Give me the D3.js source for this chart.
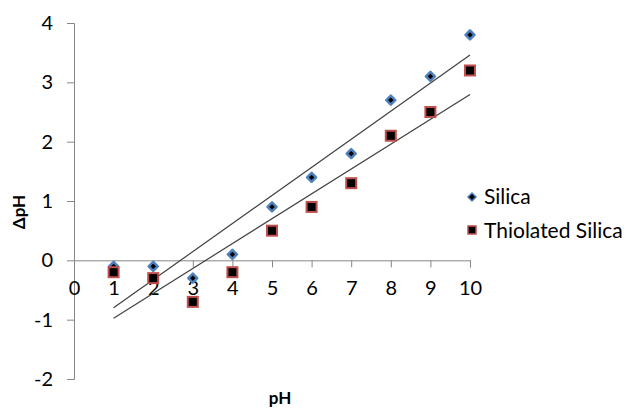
<!DOCTYPE html>
<html>
<head>
<meta charset="utf-8">
<script src="https://cdn.jsdelivr.net/npm/d3@7"></script>
<style>
  body { margin: 0; background: #fff; }
  svg { font-family: Lato, "Open Sans", sans-serif; }
</style>
</head>
<body>
<svg></svg>
<script>
// pH values on x axis
let phValues = [1, 2, 3, 4, 5, 6, 7, 8, 9, 10];
let silica = [-0.1, -0.1, -0.3, 0.1, 0.9, 1.4, 1.8, 2.7, 3.1, 3.8];
let thiolated = [-0.2, -0.3, -0.7, -0.2, 0.5, 0.9, 1.3, 2.1, 2.5, 3.2];
let seriesNames = ["Silica", "Thiolated Silica"];
let xTicks = [0, 1, 2, 3, 4, 5, 6, 7, 8, 9, 10];
let yTicks = [-2, -1, 0, 1, 2, 3, 4];

let width = 630;
let height = 408;
let svg = d3.select('svg').attr('width', width).attr('height', height);

let xScale = d3.scaleLinear().domain([0, 10]).range([74, 470]);
let yScale = d3.scaleLinear().domain([-2, 4]).range([379, 23]);

// linear trendline (least squares)
const fit = (xs, ys) => {
    let mx = d3.mean(xs), my = d3.mean(ys);
    let sxy = d3.sum(xs, (x, i) => (x - mx) * (ys[i] - my));
    let sxx = d3.sum(xs, (x) => (x - mx) * (x - mx));
    let b = sxy / sxx;
    return [b, my - b * mx];
};

// square rotated 45 degrees, r = half diagonal
const diamondPath = (r) => 'M0,' + (-r) + 'L' + r + ',0L0,' + r + 'L' + (-r) + ',0Z';

// y axis
let yAxis = d3.axisLeft(yScale).tickValues(yTicks).tickSize(7).tickPadding(14).tickFormat((d) => String(d));
let gy = svg.append('g')
   .attr('transform', 'translate(' + xScale(0) + ',0)')
   .call(yAxis);
gy.select('.domain').attr('stroke', '#868686');
gy.selectAll('.tick line').attr('stroke', '#868686');
gy.selectAll('text').attr('font-size', 20).attr('fill', '#000').attr('font-family', 'Lato, sans-serif');

// x axis at y = 0
let xAxis = d3.axisBottom(xScale).tickValues(xTicks).tickSize(7).tickPadding(13).tickFormat((d) => String(d));
let gx = svg.append('g')
   .attr('transform', 'translate(0,' + yScale(0) + ')')
   .call(xAxis);
gx.select('.domain').attr('stroke', '#868686');
gx.selectAll('.tick line').attr('stroke', '#868686');
gx.selectAll('.tick').filter((d) => d === 0).select('line').remove();
gx.selectAll('text').attr('font-size', 20).attr('fill', '#000').attr('font-family', 'Lato, sans-serif');

// trendlines
[silica, thiolated].forEach((ys) => {
    let [b, a] = fit(phValues, ys);
    let x0 = phValues[0], x1 = phValues[phValues.length - 1];
    svg.append('line')
       .attr('x1', xScale(x0)).attr('y1', yScale(a + b * x0))
       .attr('x2', xScale(x1)).attr('y2', yScale(a + b * x1))
       .attr('stroke', '#404040')
       .attr('stroke-width', 1.2);
});

// markers
svg.selectAll('.silica')
   .data(phValues)
   .enter()
   .append('path')
   .attr('class', 'silica')
   .attr('d', diamondPath(4.5))
   .attr('transform', (d, i) => 'translate(' + xScale(d) + ',' + yScale(silica[i]) + ')')
   .attr('fill', '#000')
   .attr('stroke', '#4F81BD')
   .attr('stroke-width', 2.5)
   .attr('stroke-linejoin', 'round');

svg.selectAll('.thio')
   .data(phValues)
   .enter()
   .append('rect')
   .attr('class', 'thio')
   .attr('x', (d) => xScale(d) - 5)
   .attr('y', (d, i) => yScale(thiolated[i]) - 5)
   .attr('width', 10)
   .attr('height', 10)
   .attr('fill', '#000')
   .attr('stroke', '#C0504D')
   .attr('stroke-width', 2);

// axis titles
svg.append('text')
   .attr('transform', 'translate(25,' + 212 + ') rotate(-90)')
   .attr('text-anchor', 'middle')
   .attr('font-size', 17)
   .attr('font-weight', 'bold')
   .text('ΔpH');

svg.append('text')
   .attr('x', 280)
   .attr('y', 404)
   .attr('text-anchor', 'middle')
   .attr('font-size', 17)
   .attr('font-weight', 'bold')
   .text('pH');

// legend
let legend = svg.append('g');
legend.append('path')
   .attr('d', diamondPath(4))
   .attr('transform', 'translate(472,197)')
   .attr('fill', '#000')
   .attr('stroke', '#4F81BD')
   .attr('stroke-width', 1.5);
legend.append('rect')
   .attr('x', 468).attr('y', 226).attr('width', 8).attr('height', 8)
   .attr('fill', '#000')
   .attr('stroke', '#C0504D')
   .attr('stroke-width', 1.5);
legend.selectAll('text')
   .data(seriesNames)
   .enter()
   .append('text')
   .attr('x', 484)
   .attr('y', (d, i) => 204 + i * 34)
   .attr('font-size', 21)
   .text((d) => d);
</script>
</body>
</html>
